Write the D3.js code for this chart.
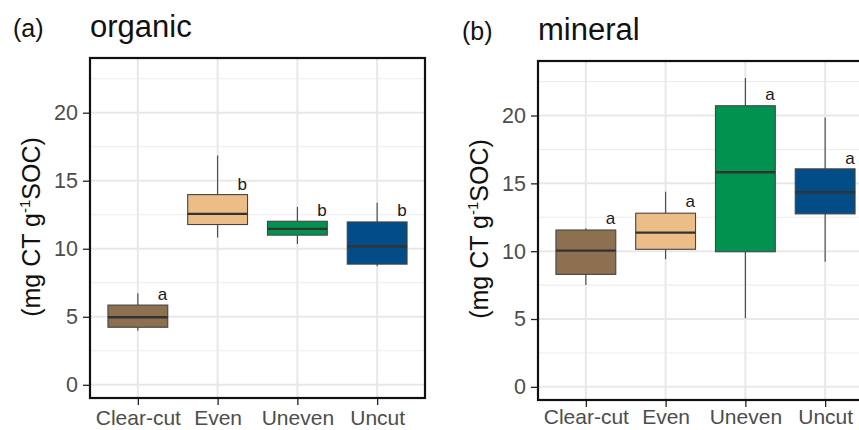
<!DOCTYPE html>
<html>
<head>
<meta charset="utf-8">
<script src="https://cdn.jsdelivr.net/npm/d3@7"></script>
<style>
  html, body { margin: 0; padding: 0; background: #fff; }
  svg { display: block; font-family: "Liberation Sans", Arial, Helvetica, sans-serif; }
</style>
</head>
<body>
<svg id="chart" width="859" height="430"></svg>
<script>
// Treatments and their fill colours
const categories = ["Clear-cut", "Even", "Uneven", "Uncut"];
const fills = ["#8c7050", "#edbd87", "#00924e", "#024d88"];

// Box statistics per treatment: lower whisker, Q1, median, Q3, upper whisker
const organicLow    = [3.98, 10.83, 10.34, 8.72];
const organicQ1     = [4.23, 11.78, 11.00, 8.87];
const organicMedian = [4.96, 12.56, 11.46, 10.17];
const organicQ3     = [5.86, 13.98, 12.02, 11.97];
const organicHigh   = [6.72, 16.86, 13.07, 13.39];
const organicLetters = ["a", "b", "b", "b"];
const organicLetterY = [6.6, 14.73, 12.81, 12.81];

const mineralLow    = [7.50, 9.40, 5.05, 9.23];
const mineralQ1     = [8.29, 10.14, 9.96, 12.75];
const mineralMedian = [10.04, 11.37, 15.82, 14.35];
const mineralQ3     = [11.56, 12.80, 20.72, 16.07];
const mineralHigh   = [11.69, 14.39, 22.76, 19.85];
const mineralLetters = ["a", "a", "a", "a"];
const mineralLetterY = [12.4, 13.65, 21.58, 16.86];

const yTicks = [0, 5, 10, 15, 20];
const yMinor = [2.5, 7.5, 12.5, 17.5, 22.5];
const yDomain = [-0.97, 24.02];

const svg = d3.select("#chart");

function panel(opt) {
  const { left, right, top, bottom } = opt;
  const g = svg.append("g");

  const x = d3.scalePoint().domain(categories).range([left, right]).padding(0.6);
  const y = d3.scaleLinear().domain(yDomain).range([bottom, top]);
  const bw = x.step() * 0.75;

  // panel background grid
  const grid = g.append("g");
  grid.selectAll("line.minor").data(yMinor).join("line")
    .attr("x1", left).attr("x2", right)
    .attr("y1", d => y(d)).attr("y2", d => y(d))
    .attr("stroke", "#ededed").attr("stroke-width", 1.1);
  grid.selectAll("line.major").data(yTicks).join("line")
    .attr("x1", left).attr("x2", right)
    .attr("y1", d => y(d)).attr("y2", d => y(d))
    .attr("stroke", "#e8e8e8").attr("stroke-width", 2);
  grid.selectAll("line.vert").data(categories).join("line")
    .attr("x1", d => x(d)).attr("x2", d => x(d))
    .attr("y1", top).attr("y2", bottom)
    .attr("stroke", "#e8e8e8").attr("stroke-width", 2);

  const rows = categories.map((c, i) => ({
    c, i,
    low: opt.low[i], q1: opt.q1[i], med: opt.med[i], q3: opt.q3[i], high: opt.high[i],
    letter: opt.letters[i], ly: opt.letterY[i]
  }));

  const boxes = g.append("g").selectAll("g").data(rows).join("g");
  // whiskers
  boxes.append("line")
    .attr("x1", d => x(d.c)).attr("x2", d => x(d.c))
    .attr("y1", d => y(d.high)).attr("y2", d => y(d.q3))
    .attr("stroke", "#444").attr("stroke-width", 1.1);
  boxes.append("line")
    .attr("x1", d => x(d.c)).attr("x2", d => x(d.c))
    .attr("y1", d => y(d.q1)).attr("y2", d => y(d.low))
    .attr("stroke", "#444").attr("stroke-width", 1.1);
  // boxes
  boxes.append("rect")
    .attr("x", d => x(d.c) - bw / 2).attr("width", bw)
    .attr("y", d => y(d.q3)).attr("height", d => y(d.q1) - y(d.q3))
    .attr("fill", d => fills[d.i])
    .attr("stroke", "#444").attr("stroke-width", 1.1);
  // medians
  boxes.append("line")
    .attr("x1", d => x(d.c) - bw / 2).attr("x2", d => x(d.c) + bw / 2)
    .attr("y1", d => y(d.med)).attr("y2", d => y(d.med))
    .attr("stroke", "#333").attr("stroke-width", 2.4);
  // significance letters
  boxes.append("text")
    .attr("x", d => x(d.c) + x.step() * 0.31)
    .attr("y", d => y(d.ly))
    .attr("dy", "0.32em")
    .attr("text-anchor", "middle")
    .attr("font-size", 17)
    .attr("fill", "#1a1a1a")
    .text(d => d.letter);

  // panel border
  g.append("rect")
    .attr("x", left).attr("y", top)
    .attr("width", right - left).attr("height", bottom - top)
    .attr("fill", "none").attr("stroke", "#111").attr("stroke-width", 2.2);

  // y axis
  const yAxis = g.append("g")
    .attr("transform", `translate(${left - 1},0)`)
    .call(d3.axisLeft(y).tickValues(yTicks).tickSize(6).tickPadding(5));
  yAxis.select(".domain").remove();
  yAxis.selectAll(".tick line").attr("stroke", "#222").attr("stroke-width", 1.3);
  yAxis.selectAll(".tick text").attr("font-size", 21.5).attr("fill", "#4d4d4d")
    .attr("font-family", "Liberation Sans, Arial, sans-serif");

  // x axis
  const xAxis = g.append("g")
    .attr("transform", `translate(0,${bottom + 1})`)
    .call(d3.axisBottom(x).tickSize(6).tickPadding(opt.xPad));
  xAxis.select(".domain").remove();
  xAxis.selectAll(".tick line").attr("stroke", "#222").attr("stroke-width", 1.3);
  xAxis.selectAll(".tick text").attr("font-size", 21).attr("fill", "#4d4d4d")
    .attr("font-family", "Liberation Sans, Arial, sans-serif");

  // y axis title
  const yt = g.append("text")
    .attr("transform", `translate(${opt.yTitleX},${opt.yTitleY}) rotate(-90)`)
    .attr("text-anchor", "middle")
    .attr("font-size", 25)
    .attr("fill", "#111");
  yt.append("tspan").text("(mg CT g");
  yt.append("tspan").attr("font-size", 15).attr("dy", -10).text("-1");
  yt.append("tspan").attr("dy", 10).text("SOC)");

  // panel tag and title
  g.append("text").attr("x", opt.tagX).attr("y", opt.titleY)
    .attr("font-size", 25).attr("fill", "#111").text(opt.tag);
  g.append("text").attr("x", left).attr("y", opt.titleY)
    .attr("font-size", 31).attr("fill", "#111").text(opt.title);
}

panel({
  left: 90, right: 425, top: 58, bottom: 398,
  low: organicLow, q1: organicQ1, med: organicMedian, q3: organicQ3, high: organicHigh,
  letters: organicLetters, letterY: organicLetterY,
  yTitleX: 40, yTitleY: 227, xPad: 5,
  tag: "(a)", tagX: 13, title: "organic", titleY: 37
});

panel({
  left: 538, right: 873, top: 61, bottom: 400,
  low: mineralLow, q1: mineralQ1, med: mineralMedian, q3: mineralQ3, high: mineralHigh,
  letters: mineralLetters, letterY: mineralLetterY,
  yTitleX: 488, yTitleY: 229, xPad: 2,
  tag: "(b)", tagX: 462, title: "mineral", titleY: 40
});
</script>
</body>
</html>
